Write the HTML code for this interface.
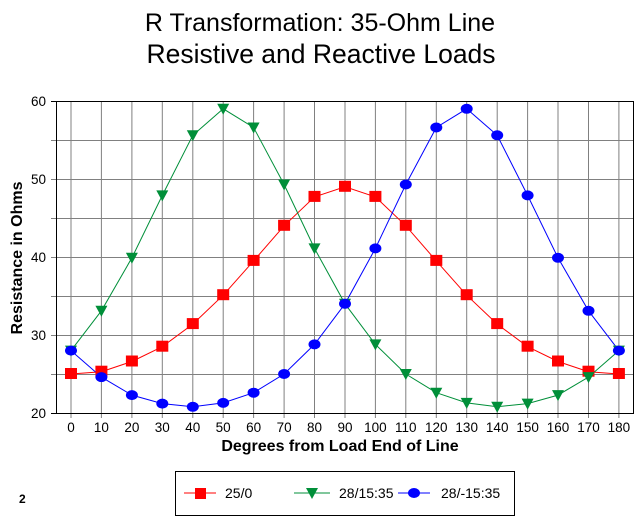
<!DOCTYPE html>
<html><head><style>body{margin:0;background:#fff}svg{display:block}</style></head><body>
<svg width="639" height="519" xmlns="http://www.w3.org/2000/svg" font-family="Liberation Sans, sans-serif">
<text x="320" y="31" font-size="25" text-anchor="middle">R Transformation: 35-Ohm Line</text>
<text x="321" y="63" font-size="26.5" text-anchor="middle">Resistive and Reactive Loads</text>
<g stroke="#808080" stroke-width="1">
<line x1="71" y1="101" x2="71" y2="418"/><line x1="101.4" y1="101" x2="101.4" y2="418"/><line x1="131.9" y1="101" x2="131.9" y2="418"/><line x1="162.3" y1="101" x2="162.3" y2="418"/><line x1="192.8" y1="101" x2="192.8" y2="418"/><line x1="223.2" y1="101" x2="223.2" y2="418"/><line x1="253.6" y1="101" x2="253.6" y2="418"/><line x1="284.1" y1="101" x2="284.1" y2="418"/><line x1="314.5" y1="101" x2="314.5" y2="418"/><line x1="345" y1="101" x2="345" y2="418"/><line x1="375.4" y1="101" x2="375.4" y2="418"/><line x1="405.8" y1="101" x2="405.8" y2="418"/><line x1="436.3" y1="101" x2="436.3" y2="418"/><line x1="466.7" y1="101" x2="466.7" y2="418"/><line x1="497.2" y1="101" x2="497.2" y2="418"/><line x1="527.6" y1="101" x2="527.6" y2="418"/><line x1="558" y1="101" x2="558" y2="418"/><line x1="588.5" y1="101" x2="588.5" y2="418"/><line x1="618.9" y1="101" x2="618.9" y2="418"/>
<line x1="51" y1="140.5" x2="634" y2="140.5"/><line x1="51" y1="179.5" x2="634" y2="179.5"/><line x1="51" y1="218.5" x2="634" y2="218.5"/><line x1="51" y1="257.5" x2="634" y2="257.5"/><line x1="51" y1="296.5" x2="634" y2="296.5"/><line x1="51" y1="335.5" x2="634" y2="335.5"/><line x1="51" y1="374.5" x2="634" y2="374.5"/>
</g>
<g stroke="#000"><line x1="51" y1="101.5" x2="56" y2="101.5"/><line x1="51" y1="413.5" x2="56" y2="413.5"/></g>
<rect x="56.5" y="101.5" width="577" height="312" fill="none" stroke="#000"/>
<g font-size="13.5" text-anchor="middle">
<text x="71" y="432">0</text><text x="101.4" y="432">10</text><text x="131.9" y="432">20</text><text x="162.3" y="432">30</text><text x="192.8" y="432">40</text><text x="223.2" y="432">50</text><text x="253.6" y="432">60</text><text x="284.1" y="432">70</text><text x="314.5" y="432">80</text><text x="345" y="432">90</text><text x="375.4" y="432">100</text><text x="405.8" y="432">110</text><text x="436.3" y="432">120</text><text x="466.7" y="432">130</text><text x="497.2" y="432">140</text><text x="527.6" y="432">150</text><text x="558" y="432">160</text><text x="588.5" y="432">170</text><text x="618.9" y="432">180</text>
</g>
<g font-size="13.5" text-anchor="end">
<text x="46" y="106">60</text><text x="46" y="184">50</text><text x="46" y="262">40</text><text x="46" y="340">30</text><text x="46" y="418">20</text>
</g>
<text x="340" y="451" font-size="16" font-weight="bold" text-anchor="middle">Degrees from Load End of Line</text>
<text transform="translate(22,258) rotate(-90)" font-size="16" font-weight="bold" text-anchor="middle">Resistance in Ohms</text>

<polyline fill="none" stroke="#f00" points="71,374 101.4,371.7 131.9,361.5 162.3,346.7 192.8,324.1 223.2,295.2 253.6,260.9 284.1,225.8 314.5,196.9 345,186.8 375.4,196.9 405.8,225.8 436.3,260.9 466.7,295.2 497.2,324.1 527.6,346.7 558,361.5 588.5,371.7 618.9,374"/>
<polyline fill="none" stroke="#008f39" points="71,350.6 101.4,310.8 131.9,257.8 162.3,195.4 192.8,135.3 223.2,108.8 253.6,127.5 284.1,184.5 314.5,248.4 345,303.8 375.4,344.4 405.8,374 436.3,392.7 466.7,402.9 497.2,406.8 527.6,403.6 558,395.1 588.5,377.1 618.9,350.6"/>
<polyline fill="none" stroke="#00f" points="71,350.6 101.4,377.1 131.9,395.1 162.3,403.6 192.8,406.8 223.2,402.9 253.6,392.7 284.1,374 314.5,344.4 345,303.8 375.4,248.4 405.8,184.5 436.3,127.5 466.7,108.8 497.2,135.3 527.6,195.4 558,257.8 588.5,310.8 618.9,350.6"/>
<g fill="#f00">
<rect x="65" y="368" width="12" height="11"/><rect x="95.4" y="365.7" width="12" height="11"/><rect x="125.9" y="355.5" width="12" height="11"/><rect x="156.3" y="340.7" width="12" height="11"/><rect x="186.8" y="318.1" width="12" height="11"/><rect x="217.2" y="289.2" width="12" height="11"/><rect x="247.6" y="254.9" width="12" height="11"/><rect x="278.1" y="219.8" width="12" height="11"/><rect x="308.5" y="190.9" width="12" height="11"/><rect x="339" y="180.8" width="12" height="11"/><rect x="369.4" y="190.9" width="12" height="11"/><rect x="399.8" y="219.8" width="12" height="11"/><rect x="430.3" y="254.9" width="12" height="11"/><rect x="460.7" y="289.2" width="12" height="11"/><rect x="491.2" y="318.1" width="12" height="11"/><rect x="521.6" y="340.7" width="12" height="11"/><rect x="552" y="355.5" width="12" height="11"/><rect x="582.5" y="365.7" width="12" height="11"/><rect x="612.9" y="368" width="12" height="11"/>
</g>
<g fill="#008f39">
<polygon points="65,345.6 77,345.6 71,356.6"/><polygon points="95.4,305.8 107.4,305.8 101.4,316.8"/><polygon points="125.9,252.8 137.9,252.8 131.9,263.8"/><polygon points="156.3,190.4 168.3,190.4 162.3,201.4"/><polygon points="186.8,130.3 198.8,130.3 192.8,141.3"/><polygon points="217.2,103.8 229.2,103.8 223.2,114.8"/><polygon points="247.6,122.5 259.6,122.5 253.6,133.5"/><polygon points="278.1,179.5 290.1,179.5 284.1,190.5"/><polygon points="308.5,243.4 320.5,243.4 314.5,254.4"/><polygon points="339,298.8 351,298.8 345,309.8"/><polygon points="369.4,339.4 381.4,339.4 375.4,350.4"/><polygon points="399.8,369 411.8,369 405.8,380"/><polygon points="430.3,387.7 442.3,387.7 436.3,398.7"/><polygon points="460.7,397.9 472.7,397.9 466.7,408.9"/><polygon points="491.2,401.8 503.2,401.8 497.2,412.8"/><polygon points="521.6,398.6 533.6,398.6 527.6,409.6"/><polygon points="552,390.1 564,390.1 558,401.1"/><polygon points="582.5,372.1 594.5,372.1 588.5,383.1"/><polygon points="612.9,345.6 624.9,345.6 618.9,356.6"/>
</g>
<g fill="#00f">
<ellipse cx="71" cy="350.6" rx="6" ry="5"/><ellipse cx="101.4" cy="377.1" rx="6" ry="5"/><ellipse cx="131.9" cy="395.1" rx="6" ry="5"/><ellipse cx="162.3" cy="403.6" rx="6" ry="5"/><ellipse cx="192.8" cy="406.8" rx="6" ry="5"/><ellipse cx="223.2" cy="402.9" rx="6" ry="5"/><ellipse cx="253.6" cy="392.7" rx="6" ry="5"/><ellipse cx="284.1" cy="374" rx="6" ry="5"/><ellipse cx="314.5" cy="344.4" rx="6" ry="5"/><ellipse cx="345" cy="303.8" rx="6" ry="5"/><ellipse cx="375.4" cy="248.4" rx="6" ry="5"/><ellipse cx="405.8" cy="184.5" rx="6" ry="5"/><ellipse cx="436.3" cy="127.5" rx="6" ry="5"/><ellipse cx="466.7" cy="108.8" rx="6" ry="5"/><ellipse cx="497.2" cy="135.3" rx="6" ry="5"/><ellipse cx="527.6" cy="195.4" rx="6" ry="5"/><ellipse cx="558" cy="257.8" rx="6" ry="5"/><ellipse cx="588.5" cy="310.8" rx="6" ry="5"/><ellipse cx="618.9" cy="350.6" rx="6" ry="5"/>
</g>
<text x="19" y="503" font-size="12" font-weight="bold">2</text>
<rect x="175.5" y="471.5" width="339" height="44" fill="none" stroke="#000"/>
<line x1="184" y1="493" x2="216" y2="493" stroke="#f00"/><rect x="195" y="488" width="11" height="11" fill="#f00"/>
<text x="225" y="498" font-size="14">25/0</text>
<line x1="294" y1="493" x2="330" y2="493" stroke="#008f39"/><polygon points="306,488 318,488 312,499" fill="#008f39"/>
<text x="339" y="498" font-size="14">28/15:35</text>
<line x1="398" y1="493" x2="430" y2="493" stroke="#00f"/><ellipse cx="414" cy="493" rx="6" ry="5" fill="#00f"/>
<text x="441" y="498" font-size="14">28/-15:35</text>
</svg>
</body></html>
